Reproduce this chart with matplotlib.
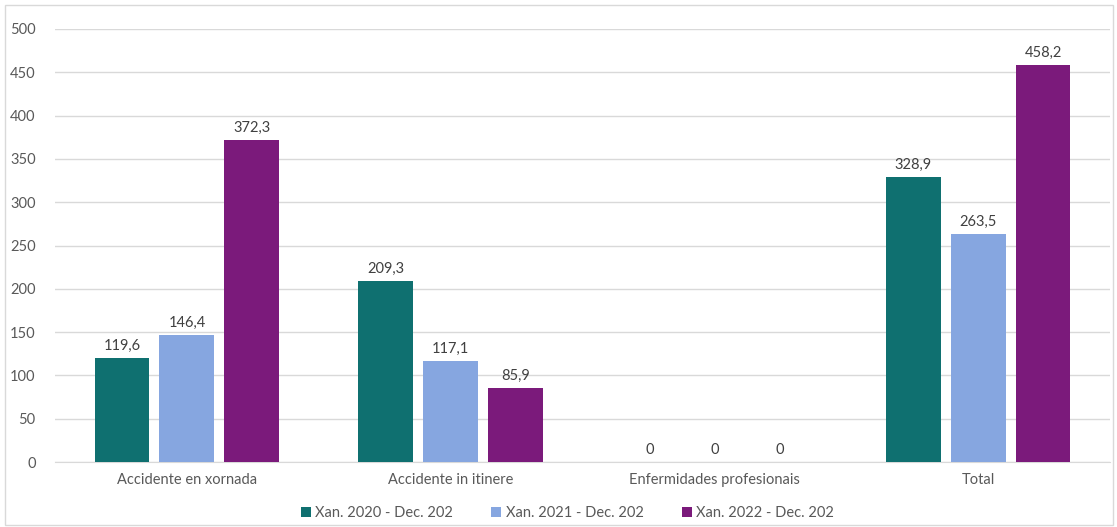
import matplotlib
matplotlib.use("Agg")
import matplotlib.pyplot as plt
from matplotlib.patches import Rectangle
import numpy as np

categories = ["Accidente en xornada", "Accidente in itinere", "Enfermidades profesionais", "Total"]
series_names = ["Xan. 2020 - Dec. 202", "Xan. 2021 - Dec. 202", "Xan. 2022 - Dec. 202"]
v2020 = [119.6, 209.3, 0, 328.9]
v2021 = [146.4, 117.1, 0, 263.5]
v2022 = [372.3, 85.9, 0, 458.2]
colors = ["#0F7070", "#86A6E0", "#7B1A7B"]

plt.rcParams['font.family'] = ['Lato', 'DejaVu Sans']
txt = "#595959"

fig = plt.figure(figsize=(11.17, 5.27), dpi=100)
ax = fig.add_axes([55 / 1117, 1 - 462 / 527, 1055 / 1117, 433 / 527])

x = np.arange(len(categories))
width = 0.208
step = 0.246
for i, (vals, name, c) in enumerate(zip([v2020, v2021, v2022], series_names, colors)):
    pos = x + (i - 1) * step
    ax.bar(pos, vals, width, color=c, label=name, zorder=3)
    for p, v in zip(pos, vals):
        lab = "0" if v == 0 else f"{v:.1f}".replace(".", ",")
        ax.text(p, v + 6, lab, ha="center", va="bottom", fontsize=10.5, color="#404040")

ax.set_xlim(-0.5, 3.5)
ax.set_ylim(0, 500)
ax.set_yticks(range(0, 501, 50))
ax.set_xticks(x)
ax.set_xticklabels(categories)
ax.grid(axis="y", color="#D9D9D9", linewidth=1, zorder=0)
for s in ["top", "right", "left"]:
    ax.spines[s].set_visible(False)
ax.spines["bottom"].set_color("#D9D9D9")
ax.tick_params(axis="both", length=0, labelsize=10.5, colors=txt)
ax.tick_params(axis="y", pad=14)
ax.tick_params(axis="x", pad=8)

handles, labels = ax.get_legend_handles_labels()
fig.legend(handles, labels, loc="center", bbox_to_anchor=(0.508, 1 - 513 / 527), ncol=3, frameon=False,
           fontsize=10.5, labelcolor=txt, handlelength=0.7, handleheight=0.7,
           handletextpad=0.3, columnspacing=2.6)

fig.patches.append(Rectangle((5 / 1117, 2 / 527), 1108 / 1117, 520 / 527, transform=fig.transFigure,
                             fill=False, edgecolor="#D9D9D9", linewidth=1))

fig.savefig("out.png", dpi=100)
